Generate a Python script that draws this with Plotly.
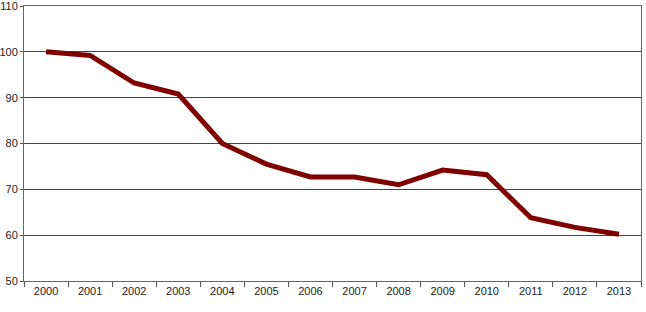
import plotly.graph_objects as go

years = ["2000", "2001", "2002", "2003", "2004", "2005", "2006",
         "2007", "2008", "2009", "2010", "2011", "2012", "2013"]
values = [100.0, 99.2, 93.2, 90.8, 80.0, 75.5, 72.7,
          72.7, 71.0, 74.2, 73.2, 63.8, 61.7, 60.2]
y_ticks = [50, 60, 70, 80, 90, 100, 110]

fig = go.Figure()
fig.add_trace(go.Scatter(
    x=years, y=values, mode="lines",
    line=dict(color="#800000", width=5),
    hoverinfo="skip",
))

font = dict(family="Liberation Sans, Arial, sans-serif", size=11, color="#222222")

fig.update_layout(
    width=646, height=312,
    margin=dict(l=24, r=5, t=6, b=31, autoexpand=False),
    paper_bgcolor="white", plot_bgcolor="white",
    showlegend=False,
    font=font,
    xaxis=dict(
        type="category", tickson="boundaries", automargin=False,
        ticks="outside", ticklen=5, tickcolor="#555555", tickwidth=1,
        showline=True, linecolor="#666666", linewidth=1, mirror=True,
        showgrid=False, tickfont=font, range=[-0.5, 13.5],
    ),
    yaxis=dict(
        range=[50, 110], tickvals=y_ticks, automargin=False,
        ticks="outside", ticklen=3, tickcolor="#555555",
        showline=True, linecolor="#666666", linewidth=1, mirror=True,
        showgrid=True, gridcolor="#444444", gridwidth=1,
        zeroline=False, tickfont=font, ticklabeloverflow="allow",
    ),
)

fig.write_html("out.html")
